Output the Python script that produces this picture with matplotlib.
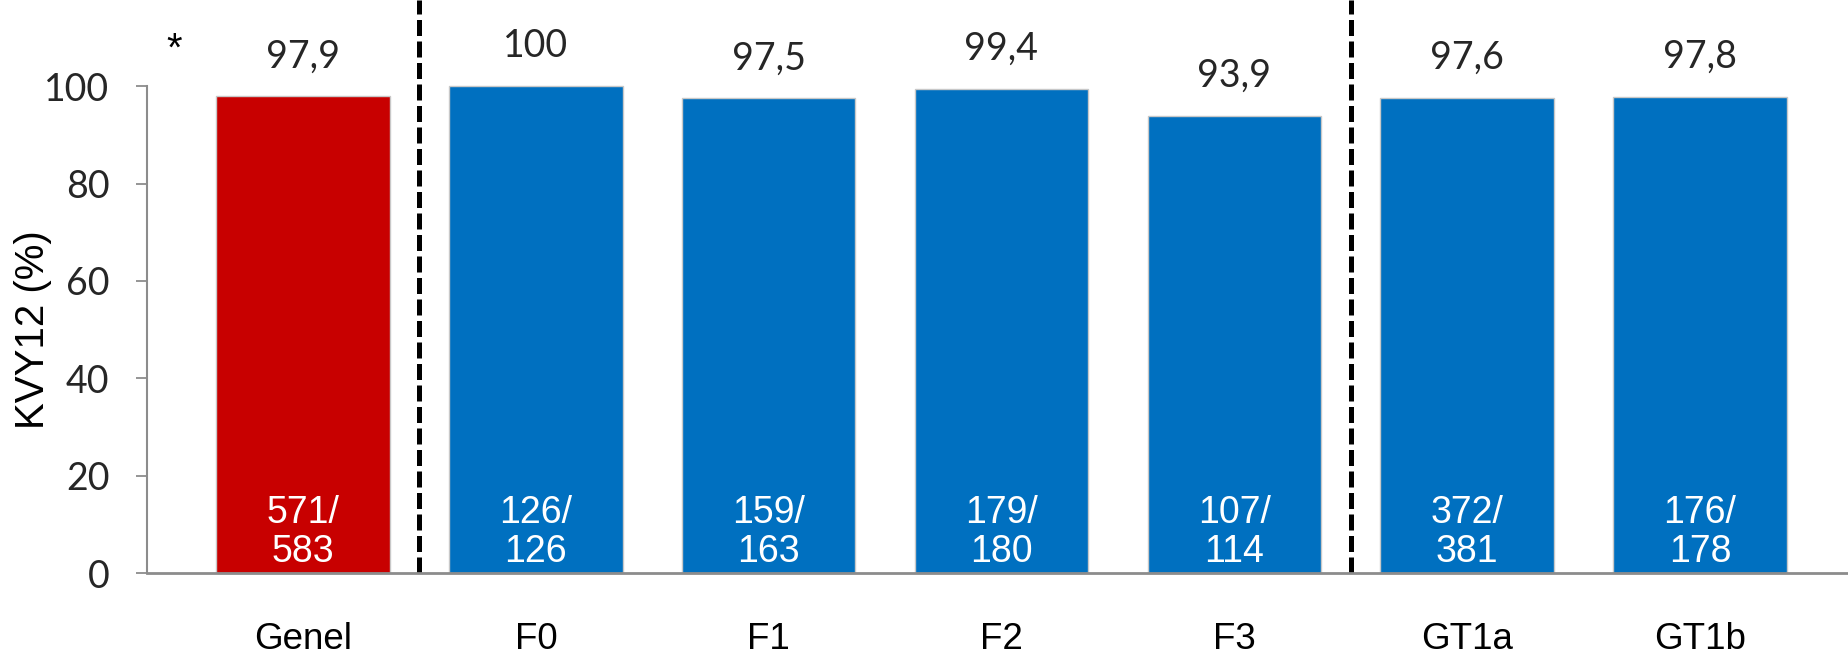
import matplotlib
matplotlib.use('Agg')
import matplotlib.pyplot as plt
import numpy as np

# data
categories = ['Genel', 'F0', 'F1', 'F2', 'F3', 'GT1a', 'GT1b']
values = [97.9, 100, 97.5, 99.4, 93.9, 97.6, 97.8]
value_labels = ['97,9', '100', '97,5', '99,4', '93,9', '97,6', '97,8']
counts = ['571/\n583', '126/\n126', '159/\n163', '179/\n180', '107/\n114', '372/\n381', '176/\n178']
group_breaks = [0.5, 4.5]
yticks = [0, 20, 40, 60, 80, 100]

RED = '#C80000'
BLUE = '#0070C0'
AXIS_GREY = '#8C8C8C'

fig = plt.figure(figsize=(18.49, 6.59), dpi=100)
ax = fig.add_axes([0.0795, 0.1305, 0.9205, 0.8695])

x = np.arange(len(categories))
colors = [RED] + [BLUE] * (len(categories) - 1)
ax.bar(x, values, width=0.745, color=colors, edgecolor='#C8C8C8', linewidth=1, zorder=2)

# value above each bar
for xi, v, lab in zip(x, values, value_labels):
    ax.text(xi, v + 8.2, lab, ha='center', va='center', fontsize=27,
            family='Lato', color='#262626')

# counts inside the bars
for xi, c in zip(x, counts):
    ax.text(xi, 8.4, c, ha='center', va='center', fontsize=27,
            family='Liberation Sans', color='white', linespacing=1.1, zorder=3)

# group separators
for b in group_breaks:
    ax.axvline(b, ymin=0, ymax=1, color='black', linestyle=(0, (3.2, 1.1)),
               linewidth=3.6, zorder=1)

ax.text(-0.555, 107.6, '*', ha='center', va='center', fontsize=29,
        family='Liberation Sans', color='black')

ax.set_xlim(-0.67, 6.64)
ax.set_ylim(0, 117.7)
ax.set_yticks(yticks)
ax.set_yticklabels([str(t) for t in yticks], family='Lato', fontsize=27, color='#262626')
ax.set_xticks(x)
ax.set_xticklabels(categories, family='Liberation Sans', fontsize=26.5, color='black')
ax.tick_params(axis='x', length=0, pad=35)
ax.tick_params(axis='y', length=8, width=1.3, color=AXIS_GREY, pad=19)

ax.set_ylabel('KVY12 (%)', family='Liberation Sans', fontsize=29)
ax.yaxis.set_label_coords(-0.056, 0.424)

for s in ['top', 'right']:
    ax.spines[s].set_visible(False)
ax.spines['left'].set_bounds(0, 100)
ax.spines['left'].set_color(AXIS_GREY)
ax.spines['left'].set_linewidth(1.5)
ax.spines['bottom'].set_color(AXIS_GREY)
ax.spines['bottom'].set_linewidth(2)

fig.savefig('out.png', dpi=100)
